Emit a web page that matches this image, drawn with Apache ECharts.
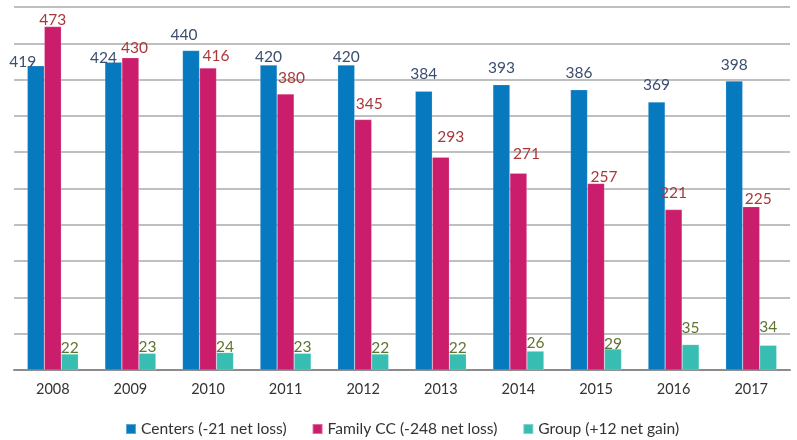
<!DOCTYPE html>
<html><head><meta charset="utf-8">
<script src="https://cdn.jsdelivr.net/npm/echarts@6/dist/echarts.min.js"></script>
<style>html,body{margin:0;padding:0;background:#fff}#c{width:797px;height:440px}</style>
</head><body><div id="c"></div>
<script>
const years = ['2008','2009','2010','2011','2012','2013','2014','2015','2016','2017'];
const centers = [419,424,440,420,420,384,393,386,369,398];
const familyCC = [473,430,416,380,345,293,271,257,221,225];
const group = [22,23,24,23,22,22,26,29,35,34];
const seriesNames = ['Centers (-21 net loss)','Family CC (-248 net loss)','Group (+12 net gain)'];

// label placement nudges (dx, gap above bar) mimicking the original label layout
const nudgeBlue = [[-13,-1],[-10,-1],[-7,11],[0,3],[0,3],[0,12],[0,12],[0,12],[0,12],[0,11]];
const nudgePink = [[0,2],[4,5],[8,7],[6,11],[6,11],[10,15],[8,14],[8,1],[0,12],[7,3]];
const nudgeTeal = [[0,1],[0,1],[0,1],[0,1],[0,1],[0,1],[0,3],[0,0],[0,12],[0,13]];

const FONT = 'Lato';
function mk(vals, nudges){
  return vals.map((v,i)=>({value:v, label:{offset:[nudges[i][0], -(nudges[i][1]-3)]}}));
}
function series(name, vals, nudges, color, labelColor){
  return {
    name, type:'bar', barWidth:17, barGap:'0%',
    itemStyle:{color, borderColor:'rgba(255,255,255,0.35)', borderWidth:0.5},
    label:{show:true, position:'top', distance:0, color:labelColor, fontFamily:FONT, fontSize:15.5},
    data: mk(vals, nudges)
  };
}
const chart = echarts.init(document.getElementById('c'), null, {renderer:'canvas'});
chart.setOption({
  animation:false,
  textStyle:{fontFamily:FONT},
  grid:{left:14, right:7, top:7, bottom:70, containLabel:false},
  legend:{
    data:seriesNames, left:125, top:421, itemWidth:10, itemHeight:10, itemGap:25, padding:0,
    icon:'rect', textStyle:{fontFamily:FONT, fontSize:15.6, color:'#333'}
  },
  xAxis:{
    type:'category', data:years,
    axisLine:{lineStyle:{color:'#8c8c8c', width:2}},
    axisTick:{show:false},
    axisLabel:{color:'#333', fontFamily:FONT, fontSize:14.5, margin:12}
  },
  yAxis:{
    type:'value', min:0, max:500, interval:50,
    axisLabel:{show:false}, axisLine:{show:false}, axisTick:{show:false},
    splitLine:{lineStyle:{color:'#aaaaaa', width:1.5}}
  },
  series:[
    series(seriesNames[0], centers, nudgeBlue, '#0779bf', '#3b4e6e'),
    series(seriesNames[1], familyCC, nudgePink, '#ca1d6c', '#a8383b'),
    series(seriesNames[2], group, nudgeTeal, '#37bdb1', '#5e7430')
  ]
});
</script></body></html>
